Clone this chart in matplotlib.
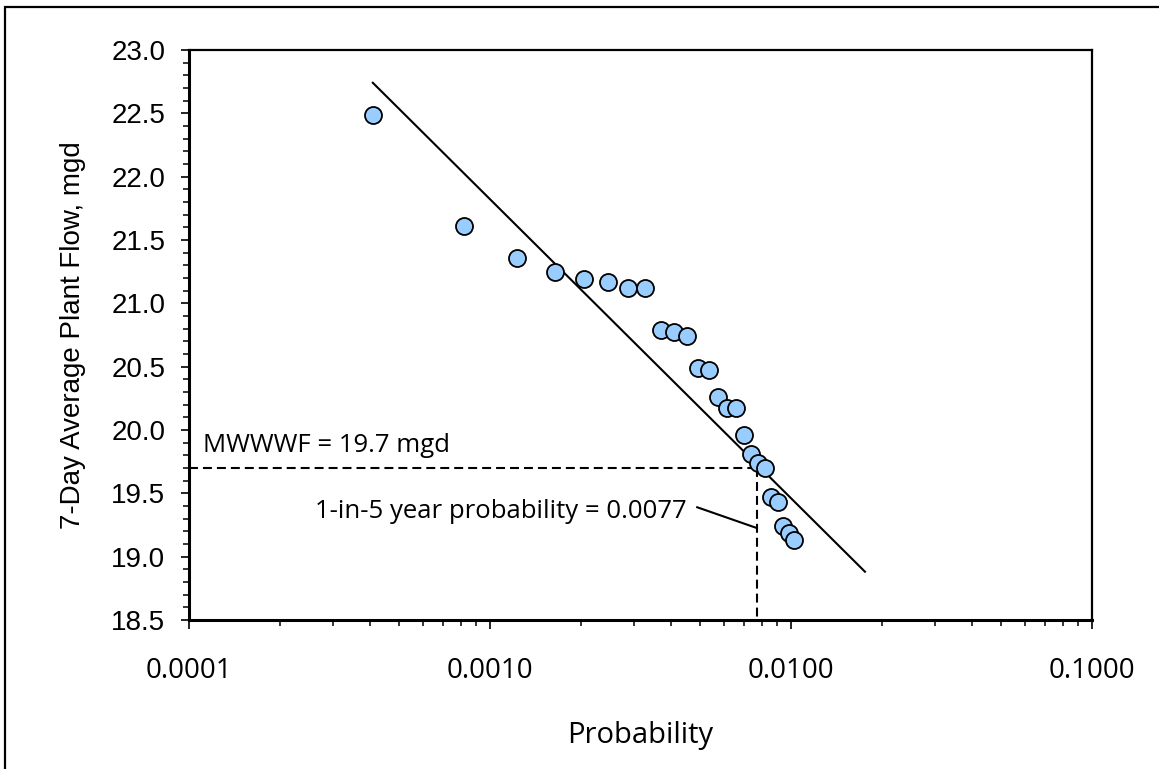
import matplotlib
matplotlib.use("Agg")
import matplotlib.pyplot as plt
import matplotlib.patches as patches
import matplotlib.transforms as mtransforms
from matplotlib.ticker import MultipleLocator, FuncFormatter, LogLocator, NullFormatter
import numpy as np

# ranked 7-day average flows and their exceedance probabilities
probability = [0.00041 * i for i in range(1, 26)]
flow_mgd = [22.49, 21.61, 21.36, 21.25, 21.19, 21.17, 21.12, 21.12, 20.79, 20.77,
            20.74, 20.49, 20.47, 20.26, 20.17, 20.17, 19.96, 19.81, 19.74, 19.70,
            19.47, 19.43, 19.24, 19.19, 19.13]

# log-linear fit: flow = fit_a + fit_b * log10(p)
fit_a = 14.740
fit_b = -2.3607
fit_range = [0.000408, 0.01761]

mwwwf = 19.7
p_design = 0.0077

x_ticks = [0.0001, 0.001, 0.01, 0.1]
y_min, y_max = 18.5, 23.0

tahoma_like = ["Open Sans", "DejaVu Sans"]
arial_like = ["Liberation Sans", "DejaVu Sans"]

fig = plt.figure(figsize=(11.59, 7.69), dpi=100)
fig.patch.set_facecolor("white")
ax = fig.add_axes([189 / 1159, 1 - 620 / 769, 903 / 1159, 570 / 769])

# border round the whole chart
fig.patches.append(patches.Rectangle((5 / 1159, -0.1), 1.2, 1.1 - 7 / 769,
                                     transform=fig.transFigure, fill=False,
                                     edgecolor="black", linewidth=1.6, clip_on=False))

ax.set_xscale("log")
ax.set_xlim(x_ticks[0], x_ticks[-1])
ax.set_ylim(y_min, y_max)

# fitted line
fx = np.array(fit_range)
ax.plot(fx, fit_a + fit_b * np.log10(fx), color="black", linewidth=1.5, zorder=2)

# design values
dash = (4.3, 2.4)
ax.plot([x_ticks[0], p_design], [mwwwf, mwwwf], color="black", linewidth=1.5,
        linestyle=(0, dash), zorder=2)
ax.plot([p_design, p_design], [mwwwf, y_min], color="black", linewidth=1.5,
        linestyle=(0, dash), zorder=2)

ax.scatter(probability, flow_mgd, s=150, facecolor="#99CCFF", edgecolor="black",
           linewidth=1.3, zorder=3, clip_on=False)

# annotations
blend = mtransforms.blended_transform_factory(ax.transAxes, ax.transData)
ax.text(0.0155, 19.826, "MWWWF = 19.7 mgd", transform=blend, ha="left",
        va="baseline", fontsize=18.5, family=tahoma_like)
ax.text(0.00451, 19.305, "1-in-5 year probability = 0.0077", ha="right",
        va="baseline", fontsize=18.5, family=tahoma_like)
leader_x = [0.00488, p_design]
leader_y = [19.39, 19.226]
ax.plot(leader_x, leader_y, color="black", linewidth=1.5, zorder=2)

# spines
for side in ["left", "bottom"]:
    ax.spines[side].set_linewidth(2.2)
for side in ["top", "right"]:
    ax.spines[side].set_linewidth(1.6)

# ticks
ax.xaxis.set_major_locator(LogLocator(base=10, numticks=10))
ax.xaxis.set_minor_locator(LogLocator(base=10, subs=np.arange(2, 10), numticks=20))
ax.xaxis.set_major_formatter(FuncFormatter(lambda v, pos: f"{v:.4f}"))
ax.xaxis.set_minor_formatter(NullFormatter())
ax.yaxis.set_major_locator(MultipleLocator(0.5))
ax.yaxis.set_minor_locator(MultipleLocator(0.1))
ax.yaxis.set_major_formatter(FuncFormatter(lambda v, pos: f"{v:.1f}"))

ax.tick_params(axis="x", which="major", direction="out", length=6.5, width=1.2,
               pad=20, labelsize=20)
ax.tick_params(axis="x", which="minor", direction="out", length=4, width=1.1)
ax.tick_params(axis="y", which="major", direction="out", length=6, width=1.2,
               pad=11, labelsize=20)
ax.tick_params(axis="y", which="minor", direction="out", length=4, width=1.1)
for lbl in ax.get_xticklabels():
    lbl.set_family(tahoma_like)
for lbl in ax.get_yticklabels():
    lbl.set_family(arial_like)

ax.set_xlabel("Probability", fontsize=21, family=tahoma_like)
ax.set_ylabel("7-Day Average Plant Flow, mgd", fontsize=20, family=arial_like)
ax.xaxis.label.set_va("center")
ax.yaxis.label.set_va("center")
ax.xaxis.set_label_coords(0.5, -(736 - 620) / 570)
ax.yaxis.set_label_coords(-(189 - 73) / 903, 0.5)

fig.savefig("out.png", dpi=100, facecolor="white")
